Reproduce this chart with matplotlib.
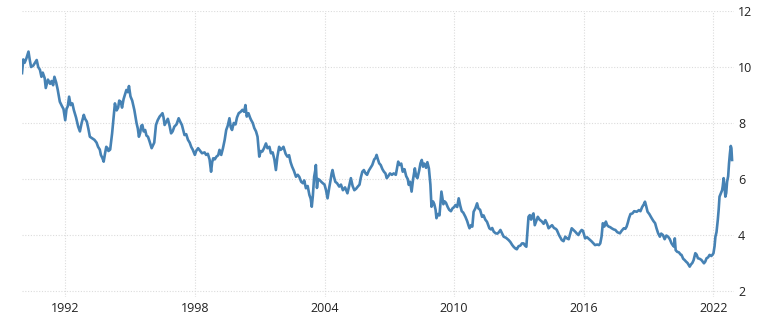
import matplotlib
matplotlib.use("Agg")
import matplotlib.pyplot as plt

# approximate weekly mortgage rate (decimal year, percent)
years = [
    1990.00, 1990.06, 1990.12, 1990.20, 1990.30, 1990.36, 1990.42, 1990.52, 1990.60, 1990.68,
    1990.75, 1990.83, 1990.90, 1990.96, 1991.05, 1991.10, 1991.20, 1991.30, 1991.37, 1991.44,
    1991.50, 1991.58, 1991.65, 1991.75, 1991.85, 1991.92, 1992.00, 1992.06, 1992.12, 1992.18,
    1992.25, 1992.33, 1992.40, 1992.50, 1992.60, 1992.68, 1992.76, 1992.86, 1992.92, 1993.00,
    1993.07, 1993.14, 1993.25, 1993.35, 1993.45, 1993.52, 1993.60, 1993.65, 1993.72, 1993.78,
    1993.84, 1993.90, 1993.96, 1994.00, 1994.08, 1994.17, 1994.25, 1994.30, 1994.38, 1994.45,
    1994.50, 1994.57, 1994.63, 1994.70, 1994.78, 1994.83, 1994.90, 1994.95, 1995.02, 1995.10,
    1995.20, 1995.30, 1995.36, 1995.41, 1995.47, 1995.52, 1995.57, 1995.63, 1995.70, 1995.76,
    1995.83, 1995.90, 1995.96, 1996.00, 1996.06, 1996.12, 1996.20, 1996.28, 1996.37, 1996.45,
    1996.50, 1996.55, 1996.60, 1996.68, 1996.75, 1996.83, 1996.90, 1996.97, 1997.05, 1997.15,
    1997.25, 1997.32, 1997.40, 1997.46, 1997.52, 1997.60, 1997.68, 1997.76, 1997.83, 1997.90,
    1998.00, 1998.06, 1998.15, 1998.25, 1998.33, 1998.45, 1998.52, 1998.60, 1998.68, 1998.75,
    1998.80, 1998.85, 1998.92, 1999.00, 1999.08, 1999.14, 1999.22, 1999.30, 1999.38, 1999.45,
    1999.52, 1999.60, 1999.66, 1999.72, 1999.80, 1999.88, 1999.95, 2000.03, 2000.12, 2000.20,
    2000.28, 2000.34, 2000.40, 2000.48, 2000.55, 2000.60, 2000.68, 2000.75, 2000.83, 2000.90,
    2000.98, 2001.05, 2001.12, 2001.20, 2001.29, 2001.36, 2001.45, 2001.52, 2001.60, 2001.68,
    2001.75, 2001.82, 2001.90, 2001.97, 2002.05, 2002.10, 2002.20, 2002.28, 2002.36, 2002.43,
    2002.50, 2002.58, 2002.68, 2002.76, 2002.83, 2002.92, 2003.00, 2003.06, 2003.14, 2003.22,
    2003.30, 2003.36, 2003.41, 2003.46, 2003.52, 2003.57, 2003.60, 2003.65, 2003.70, 2003.78,
    2003.85, 2003.92, 2004.00, 2004.07, 2004.14, 2004.22, 2004.28, 2004.33, 2004.37, 2004.43,
    2004.50, 2004.58, 2004.68, 2004.76, 2004.85, 2004.95, 2005.06, 2005.14, 2005.22, 2005.30,
    2005.38, 2005.46, 2005.54, 2005.62, 2005.68, 2005.75, 2005.82, 2005.90, 2005.97, 2006.05,
    2006.13, 2006.21, 2006.30, 2006.36, 2006.41, 2006.47, 2006.53, 2006.60, 2006.68, 2006.75,
    2006.82, 2006.88, 2006.95, 2007.03, 2007.12, 2007.20, 2007.30, 2007.36, 2007.41, 2007.48,
    2007.55, 2007.62, 2007.70, 2007.78, 2007.85, 2007.90, 2007.96, 2008.03, 2008.10, 2008.18,
    2008.24, 2008.30, 2008.38, 2008.44, 2008.50, 2008.56, 2008.62, 2008.70, 2008.76, 2008.83,
    2008.90, 2008.95, 2009.02, 2009.08, 2009.14, 2009.18, 2009.25, 2009.32, 2009.41, 2009.44,
    2009.50, 2009.56, 2009.62, 2009.70, 2009.77, 2009.85, 2009.92, 2010.00, 2010.06, 2010.14,
    2010.21, 2010.28, 2010.35, 2010.42, 2010.52, 2010.60, 2010.66, 2010.71, 2010.78, 2010.84,
    2010.90, 2010.98, 2011.06, 2011.12, 2011.20, 2011.29, 2011.36, 2011.44, 2011.52, 2011.63,
    2011.70, 2011.76, 2011.83, 2011.92, 2012.00, 2012.07, 2012.14, 2012.22, 2012.29, 2012.40,
    2012.52, 2012.60, 2012.68, 2012.75, 2012.83, 2012.90, 2012.98, 2013.06, 2013.14, 2013.21,
    2013.28, 2013.34, 2013.40, 2013.44, 2013.50, 2013.56, 2013.62, 2013.67, 2013.73, 2013.80,
    2013.87, 2013.95, 2014.06, 2014.14, 2014.22, 2014.30, 2014.37, 2014.45, 2014.53, 2014.62,
    2014.70, 2014.75, 2014.85, 2014.92, 2014.98, 2015.06, 2015.14, 2015.22, 2015.30, 2015.37,
    2015.44, 2015.52, 2015.60, 2015.68, 2015.75, 2015.82, 2015.90, 2015.96, 2016.06, 2016.15,
    2016.25, 2016.35, 2016.45, 2016.52, 2016.62, 2016.70, 2016.76, 2016.82, 2016.88, 2016.95,
    2017.02, 2017.08, 2017.15, 2017.22, 2017.29, 2017.38, 2017.46, 2017.55, 2017.67, 2017.75,
    2017.85, 2017.92, 2017.98, 2018.04, 2018.09, 2018.16, 2018.25, 2018.33, 2018.45, 2018.55,
    2018.62, 2018.70, 2018.78, 2018.83, 2018.88, 2018.95, 2019.03, 2019.10, 2019.14, 2019.22,
    2019.30, 2019.36, 2019.44, 2019.52, 2019.58, 2019.66, 2019.74, 2019.82, 2019.90, 2019.98,
    2020.06, 2020.13, 2020.18, 2020.21, 2020.25, 2020.32, 2020.40, 2020.48, 2020.52, 2020.60,
    2020.66, 2020.73, 2020.80, 2020.86, 2020.90, 2020.96, 2021.02, 2021.08, 2021.16, 2021.22,
    2021.28, 2021.36, 2021.44, 2021.50, 2021.56, 2021.62, 2021.68, 2021.75, 2021.82, 2021.90,
    2021.96, 2022.00, 2022.05, 2022.09, 2022.14, 2022.20, 2022.24, 2022.28, 2022.35, 2022.40,
    2022.43, 2022.47, 2022.51, 2022.55, 2022.59, 2022.63, 2022.68, 2022.72, 2022.76, 2022.80,
    2022.83, 2022.86,
]
rates = [
    9.78, 10.27, 10.15, 10.30, 10.55, 10.25, 10.00, 10.05, 10.15, 10.25,
    10.00, 9.90, 9.65, 9.80, 9.60, 9.25, 9.55, 9.40, 9.50, 9.35,
    9.65, 9.45, 9.20, 8.76, 8.60, 8.50, 8.10, 8.50, 8.60, 8.94,
    8.64, 8.70, 8.46, 8.20, 7.87, 7.70, 8.00, 8.29, 8.15, 8.05,
    7.80, 7.51, 7.45, 7.40, 7.30, 7.15, 7.05, 6.86, 6.75, 6.62,
    6.90, 7.15, 7.10, 7.00, 7.05, 7.63, 8.30, 8.70, 8.45, 8.55,
    8.80, 8.76, 8.55, 8.85, 9.05, 9.18, 9.10, 9.32, 8.95, 8.80,
    8.46, 8.00, 7.80, 7.51, 7.65, 7.90, 7.93, 7.70, 7.75, 7.55,
    7.51, 7.35, 7.20, 7.10, 7.20, 7.30, 7.93, 8.10, 8.23, 8.30,
    8.35, 8.20, 7.93, 8.05, 8.15, 7.90, 7.63, 7.70, 7.87, 7.95,
    8.17, 8.05, 7.93, 7.75, 7.57, 7.60, 7.40, 7.30, 7.15, 7.05,
    6.86, 7.00, 7.10, 7.00, 6.92, 6.95, 6.86, 6.90, 6.70, 6.26,
    6.60, 6.74, 6.70, 6.80, 6.85, 7.04, 6.86, 7.10, 7.40, 7.75,
    7.90, 8.17, 7.85, 7.75, 8.00, 7.95, 8.20, 8.35, 8.40, 8.47,
    8.40, 8.64, 8.23, 8.35, 8.20, 8.11, 8.00, 7.82, 7.70, 7.51,
    6.80, 7.00, 6.98, 7.10, 7.27, 7.10, 7.15, 6.92, 6.95, 6.70,
    6.32, 6.80, 7.15, 7.04, 7.10, 7.15, 6.90, 6.80, 6.85, 6.60,
    6.44, 6.30, 6.08, 6.15, 6.08, 5.90, 5.85, 5.95, 5.67, 5.75,
    5.43, 5.30, 5.01, 5.40, 6.08, 6.30, 6.50, 5.68, 6.00, 5.96,
    5.90, 5.85, 5.80, 5.60, 5.31, 5.70, 5.96, 6.20, 6.32, 6.10,
    5.90, 5.85, 5.73, 5.80, 5.60, 5.70, 5.49, 5.75, 6.03, 5.75,
    5.60, 5.65, 5.73, 5.80, 6.05, 6.26, 6.32, 6.20, 6.15, 6.30,
    6.40, 6.50, 6.70, 6.75, 6.86, 6.70, 6.56, 6.50, 6.35, 6.26,
    6.20, 6.03, 6.10, 6.20, 6.15, 6.20, 6.15, 6.40, 6.62, 6.50,
    6.55, 6.26, 6.35, 6.10, 6.00, 5.79, 5.90, 5.55, 6.00, 6.38,
    6.10, 6.03, 6.30, 6.56, 6.68, 6.44, 6.55, 6.40, 6.60, 6.38,
    5.80, 5.01, 5.20, 5.10, 4.90, 4.60, 4.75, 4.70, 5.55, 5.40,
    5.10, 5.20, 5.15, 5.00, 4.90, 4.85, 4.95, 5.00, 5.07, 5.00,
    5.31, 5.05, 4.85, 4.80, 4.65, 4.50, 4.35, 4.24, 4.35, 4.30,
    4.83, 4.95, 5.13, 4.95, 4.90, 4.65, 4.70, 4.55, 4.47, 4.24,
    4.20, 4.25, 4.12, 4.06, 4.05, 4.10, 4.18, 4.05, 3.94, 3.90,
    3.82, 3.75, 3.65, 3.58, 3.52, 3.49, 3.60, 3.62, 3.70, 3.70,
    3.62, 3.58, 4.20, 4.65, 4.71, 4.55, 4.70, 4.77, 4.35, 4.50,
    4.65, 4.55, 4.48, 4.40, 4.53, 4.40, 4.24, 4.30, 4.35, 4.25,
    4.22, 4.18, 4.00, 3.90, 3.82, 3.78, 3.94, 3.88, 3.85, 4.05,
    4.24, 4.18, 4.12, 4.05, 4.00, 4.10, 4.18, 4.15, 3.88, 3.92,
    3.85, 3.78, 3.70, 3.64, 3.66, 3.64, 3.70, 3.94, 4.42, 4.30,
    4.48, 4.35, 4.30, 4.28, 4.24, 4.20, 4.18, 4.10, 4.06, 4.15,
    4.24, 4.22, 4.30, 4.45, 4.60, 4.75, 4.77, 4.85, 4.83, 4.89,
    4.85, 5.00, 5.10, 5.19, 5.05, 4.83, 4.75, 4.65, 4.60, 4.50,
    4.42, 4.25, 4.06, 3.94, 4.05, 4.00, 3.85, 3.98, 3.94, 3.85,
    3.70, 3.62, 3.58, 3.88, 3.46, 3.40, 3.38, 3.30, 3.29, 3.15,
    3.11, 3.05, 3.00, 2.92, 2.87, 2.95, 3.00, 3.10, 3.35, 3.30,
    3.17, 3.15, 3.11, 3.05, 2.99, 3.05, 3.17, 3.20, 3.29, 3.25,
    3.30, 3.35, 3.60, 3.94, 4.10, 4.54, 4.90, 5.37, 5.50, 5.60,
    5.75, 6.03, 5.75, 5.37, 5.50, 5.90, 6.10, 6.56, 6.90, 7.18,
    7.10, 6.68,
]
xticks = [1992, 1998, 2004, 2010, 2016, 2022]
yticks = [2, 4, 6, 8, 10, 12]

W, H = 760, 324
fig = plt.figure(figsize=(W / 100, H / 100), dpi=100)
# axes box placed in pixels: x 22..734, y 11..296.6
ax = fig.add_axes([22 / W, 1 - 296.6 / H, (734 - 22) / W, (296.6 - 11) / H])

ax.plot(years, rates, color="#4682b4", linewidth=1.9, solid_joinstyle="round")

ax.set_xlim(1990.0, 2022.95)
ax.set_ylim(1.8, 12)
ax.set_xticks(xticks)
ax.set_xticklabels([str(t) for t in xticks])
ax.set_yticks(yticks)
ax.set_yticklabels([str(t) for t in yticks])

ax.yaxis.tick_right()
ax.tick_params(axis="both", length=0, labelsize=9, labelcolor="#222222",
               labelfontfamily="Open Sans")
ax.tick_params(axis="x", pad=4)
ax.tick_params(axis="y", pad=3)

ax.grid(True, color="#dcdcdc", linestyle=(0, (1, 1.5)), linewidth=0.8)
ax.set_axisbelow(True)
for s in ax.spines.values():
    s.set_visible(False)

fig.savefig("out.png", dpi=100, facecolor="white")
